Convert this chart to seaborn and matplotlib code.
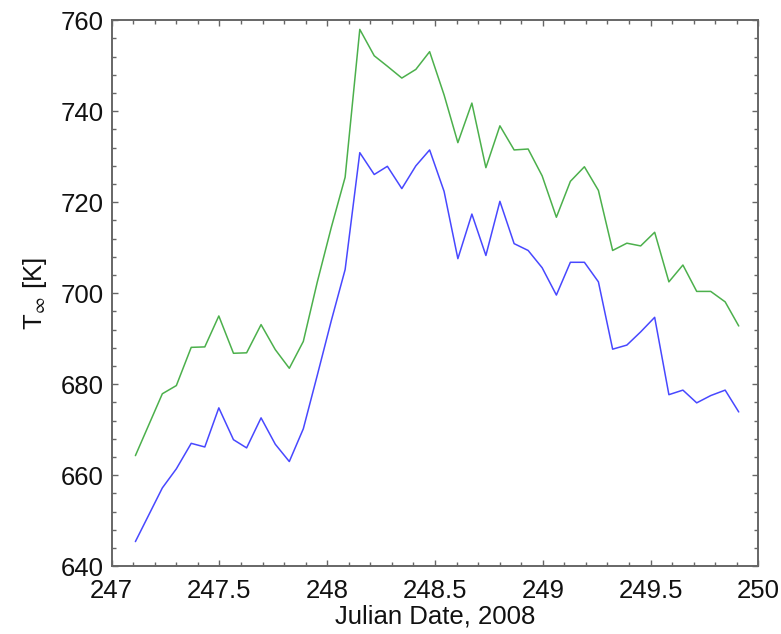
import matplotlib
matplotlib.use("Agg")
import matplotlib.pyplot as plt
import matplotlib.ticker as mticker
import numpy as np
import pandas as pd
import seaborn as sns

# Julian day of each orbit-averaged sample (2008)
julian_day = [
    247.110, 247.235, 247.300, 247.369, 247.432, 247.497, 247.565, 247.626,
    247.693, 247.759, 247.824, 247.889, 247.954, 248.019, 248.083, 248.151,
    248.218, 248.279, 248.346, 248.411, 248.475, 248.542, 248.606, 248.671,
    248.736, 248.801, 248.867, 248.932, 248.997, 249.063, 249.128, 249.193,
    249.258, 249.324, 249.390, 249.454, 249.519, 249.585, 249.650, 249.714,
    249.779, 249.846, 249.909,
]

# Exospheric temperature, upper (green) series [K]
t_inf_green = [
    664.3, 677.9, 679.7, 688.1, 688.2, 695.0, 686.8, 686.9,
    693.1, 687.6, 683.5, 689.4, 702.5, 714.5, 725.5, 758.0,
    752.2, 749.9, 747.3, 749.2, 753.1, 743.6, 733.1, 741.8,
    727.6, 736.8, 731.5, 731.7, 725.8, 716.7, 724.6, 727.8,
    722.6, 709.4, 711.0, 710.4, 713.4, 702.5, 706.2, 700.4,
    700.4, 698.1, 692.8,
]

# Exospheric temperature, lower (blue) series [K]
t_inf_blue = [
    645.4, 657.2, 661.4, 667.0, 666.2, 674.8, 667.8, 666.0,
    672.6, 666.8, 663.0, 670.2, 682.0, 694.0, 705.2, 730.9,
    726.1, 727.9, 723.0, 728.0, 731.5, 722.4, 707.6, 717.4,
    708.3, 720.2, 710.9, 709.4, 705.6, 699.6, 706.8, 706.8,
    702.5, 687.7, 688.6, 691.5, 694.7, 677.7, 678.7, 675.9,
    677.5, 678.7, 673.9,
]

x_ticks = [247, 247.5, 248, 248.5, 249, 249.5, 250]
y_ticks = [640, 660, 680, 700, 720, 740, 760]

df = pd.DataFrame({"day": julian_day, "green": t_inf_green, "blue": t_inf_blue})

sns.set_style("white")
plt.rcParams["font.family"] = ["Liberation Sans", "DejaVu Sans"]
plt.rcParams["mathtext.fontset"] = "stix"

fig = plt.figure(figsize=(7.81, 6.34), dpi=100)
ax = fig.add_axes([0.143, 0.107, 0.828, 0.861])

sns.lineplot(data=df, x="day", y="green", ax=ax, color="#4cb04c", linewidth=1.1)
sns.lineplot(data=df, x="day", y="blue", ax=ax, color="#4848ff", linewidth=1.1)

ax.set_xlim(247, 250)
ax.set_ylim(640, 760)
ax.set_xticks(x_ticks)
ax.set_yticks(y_ticks)
ax.xaxis.set_major_formatter(mticker.FuncFormatter(lambda v, p: f"{v:g}"))
ax.yaxis.set_major_formatter(mticker.FuncFormatter(lambda v, p: f"{v:g}"))
ax.xaxis.set_minor_locator(mticker.MultipleLocator(0.1))
ax.yaxis.set_minor_locator(mticker.MultipleLocator(4))

spine_color = "#666666"
for s in ax.spines.values():
    s.set_visible(True)
    s.set_color(spine_color)
    s.set_linewidth(1.4)

ax.tick_params(which="both", direction="in", top=True, right=True,
               bottom=True, left=True, color=spine_color, width=1.0,
               labelsize=18.5, labelcolor="#111111")
ax.tick_params(which="major", length=4.5)
ax.tick_params(which="minor", length=3)
ax.tick_params(axis="x", which="major", pad=9)
ax.tick_params(axis="y", which="major", pad=6)

ax.set_xlabel("Julian Date, 2008", fontsize=18.5, color="#111111", labelpad=1)
ax.set_ylabel(r"T$_\infty$ [K]", fontsize=18.5, color="#111111", labelpad=8)

fig.savefig("out.png", dpi=100)
